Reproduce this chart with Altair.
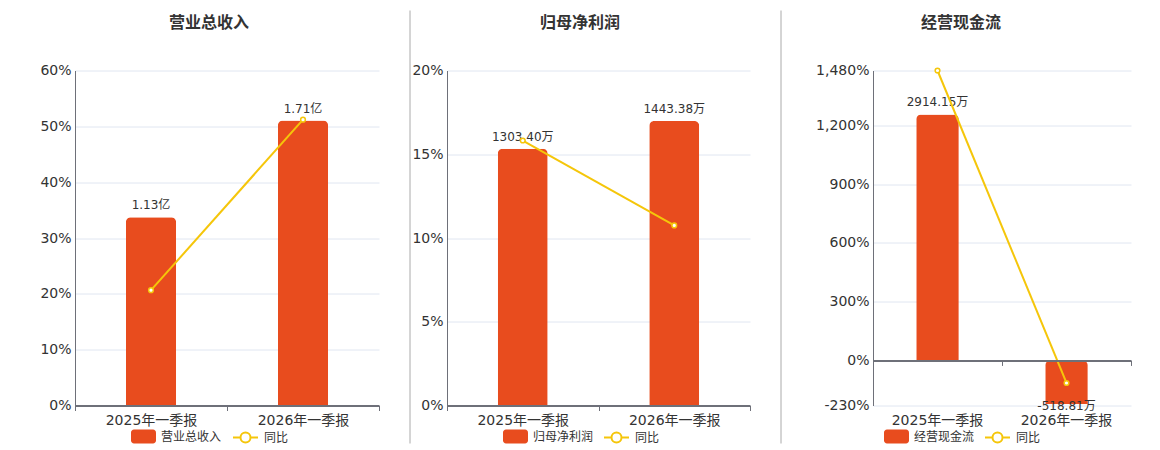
import altair as alt
import pandas as pd

# ---------------- data ----------------
periods = ["2025年一季报", "2026年一季报"]
yoy_name = "同比"
titles = ["营业总收入", "归母净利润", "经营现金流"]

rev_values = [1.13, 1.71]
rev_labels = ["1.13亿", "1.71亿"]
rev_yoy = [20.65, 51.2]

np_values = [1303.40, 1443.38]
np_labels = ["1303.40万", "1443.38万"]
np_yoy = [15.82, 10.75]

cf_values = [2914.15, -518.81]
cf_labels = ["2914.15万", "-518.81万"]
cf_yoy = [1480.0, -115.0]

rev_ticks = [0, 10, 20, 30, 40, 50, 60]
np_ticks = [0, 5, 10, 15, 20]
cf_ticks = [-230, 0, 300, 600, 900, 1200, 1480]

# hidden bar-axis domains (aligned with the percent axis)
rev_bar_dom = [0, 2.01]
np_bar_dom = [0, 1700]
cf_bar_dom = [-533.7, 3434.4]

# ---------------- style ----------------
BAR = "#E84C1E"
LINE = "#F5C60A"
FONT = "DejaVu Sans, Noto Sans CJK SC"
CJK = "Noto Sans CJK SC, DejaVu Sans"
AXC = "#6E7079"
GRID = "#E0E6F1"
TXT = "#333333"
H = 335

RECT = ("M-0.76,-0.56H0.76A0.24,0.24 0 0 1 1,-0.32V0.32A0.24,0.24 0 0 1 0.76,0.56"
        "H-0.76A0.24,0.24 0 0 1 -1,0.32V-0.32A0.24,0.24 0 0 1 -0.76,-0.56Z")
LINESYM = "M-1,0H-0.4M0.4,0H1M-0.4,0A0.4,0.4 0 1 0 0.4,0A0.4,0.4 0 1 0 -0.4,0"

LABEL_EXPR = "(datum.value < 0 ? '-' : '') + format(abs(datum.value), ',') + '%'"


def panel(title, values, labels, yoy, ticks, bar_dom, width, legx1, legx2,
          sep_x, sep_opacity, title_x, zero_axis):
    df = pd.DataFrame({
        "period": periods, "value": values, "label": labels, "yoy": yoy,
        "series": [title] * len(periods), "s2": [yoy_name] * len(periods),
    })
    base = alt.Chart(df)
    xscale = alt.Scale(domain=periods, paddingInner=0, paddingOuter=0)

    if zero_axis:
        lo, hi = ticks[0], ticks[-1]
        off = -(0 - lo) / (hi - lo) * H
        bar_axis = alt.Axis(title=None, labelFont=FONT, labelFontSize=14, labelColor=TXT,
                            labelPadding=8, domain=False, ticks=False, labelAngle=0)
        line_axis = alt.Axis(title=None, labels=False, domain=True, domainColor=AXC,
                             domainWidth=2, ticks=True, tickColor=AXC, tickSize=5,
                             tickBand="extent", orient="bottom", offset=off, zindex=1)
        text_axis = None
    else:
        bar_axis = alt.Axis(title=None, labelFont=FONT, labelFontSize=14, labelColor=TXT,
                            labelPadding=3, domainColor=AXC, domainWidth=2, tickColor=AXC,
                            tickSize=5, tickBand="extent", labelAngle=0, zindex=1)
        line_axis = bar_axis
        text_axis = bar_axis

    bar_y = alt.Scale(domain=bar_dom, nice=False, zero=False)

    bars = base.mark_bar(width={"band": 0.33}, cornerRadiusEnd=5).encode(
        x=alt.X("period:N", sort=periods, scale=xscale, axis=bar_axis),
        y=alt.Y("value:Q", scale=bar_y, axis=None),
        fill=alt.Fill("series:N", scale=alt.Scale(domain=[title], range=[BAR]),
                      legend=alt.Legend(title=None, orient="none", legendX=legx1, legendY=353.5,
                                        symbolType=RECT, symbolSize=625, symbolStrokeWidth=0,
                                        labelFont=CJK, labelFontSize=12, labelColor=TXT,
                                        labelOffset=5, padding=0)),
    )
    tpos = base.transform_filter("datum.value >= 0").mark_text(
        font=FONT, fontSize=12, color=TXT, baseline="bottom", dy=-5).encode(
        x=alt.X("period:N", sort=periods, scale=xscale, axis=text_axis),
        y=alt.Y("value:Q", scale=bar_y, axis=None),
        text="label:N",
    )
    tneg = base.transform_filter("datum.value < 0").mark_text(
        font=FONT, fontSize=12, color=TXT, baseline="top", dy=-3).encode(
        x=alt.X("period:N", sort=periods, scale=xscale, axis=text_axis),
        y=alt.Y("value:Q", scale=bar_y, axis=None),
        text="label:N",
    )
    line = base.mark_line(strokeWidth=2, point=alt.OverlayMarkDef(
        filled=True, fill="white", size=22, strokeWidth=1.5)).encode(
        x=alt.X("period:N", sort=periods, scale=xscale, axis=line_axis),
        y=alt.Y("yoy:Q", scale=alt.Scale(domain=[ticks[0], ticks[-1]], nice=False, zero=False),
                axis=alt.Axis(title=None, values=ticks, labelExpr=LABEL_EXPR, labelFont=FONT,
                              labelFontSize=14, labelColor=TXT, labelPadding=4, ticks=False,
                              domain=True, domainColor=AXC, grid=True, gridColor=GRID,
                              orient="left")),
        stroke=alt.Stroke("s2:N", scale=alt.Scale(domain=[yoy_name], range=[LINE]),
                          legend=alt.Legend(title=None, orient="none", legendX=legx2, legendY=353.5,
                                            symbolType=LINESYM, symbolSize=625, symbolStrokeWidth=2,
                                            symbolFillColor="white", labelFont=CJK, labelFontSize=12,
                                            labelColor=TXT, labelOffset=5, padding=0)),
    )
    ttl = alt.Chart(pd.DataFrame({"t": [title]})).mark_text(
        font=CJK, fontSize=16, fontWeight="bold", color=TXT, align="center",
        baseline="middle").encode(text="t:N", x=alt.value(title_x), y=alt.value(-48))
    sep = alt.Chart(pd.DataFrame({"s": [0]})).mark_rule(
        color="#AAAAAA", strokeWidth=1, opacity=sep_opacity).encode(
        x=alt.value(sep_x), y=alt.value(-60), y2=alt.value(373))

    ch = alt.layer(bars, tpos, tneg, line, ttl, sep).resolve_scale(y="independent")
    if zero_axis:
        ch = ch.resolve_axis(x="independent")
    return ch.properties(width=width, height=H)


p1 = panel(titles[0], rev_values, rev_labels, rev_yoy, rev_ticks, rev_bar_dom,
           304, 56, 157, 0, 0, 134, False)
p2 = panel(titles[1], np_values, np_labels, np_yoy, np_ticks, np_bar_dom,
           303, 56, 156, -37, 1, 133, False)
p3 = panel(titles[2], cf_values, cf_labels, cf_yoy, cf_ticks, cf_bar_dom,
           258, 11, 111, -92, 1, 88, True)

chart = alt.hconcat(p1, p2, p3, spacing=29).resolve_scale(
    fill="independent", stroke="independent", x="independent", y="independent"
).resolve_legend(fill="independent", stroke="independent").properties(
    padding={"left": 31, "top": 1.5, "right": 5, "bottom": 0}
).configure_view(stroke=None)

chart.save("out.html", embed_options={"renderer": "svg", "actions": False})
